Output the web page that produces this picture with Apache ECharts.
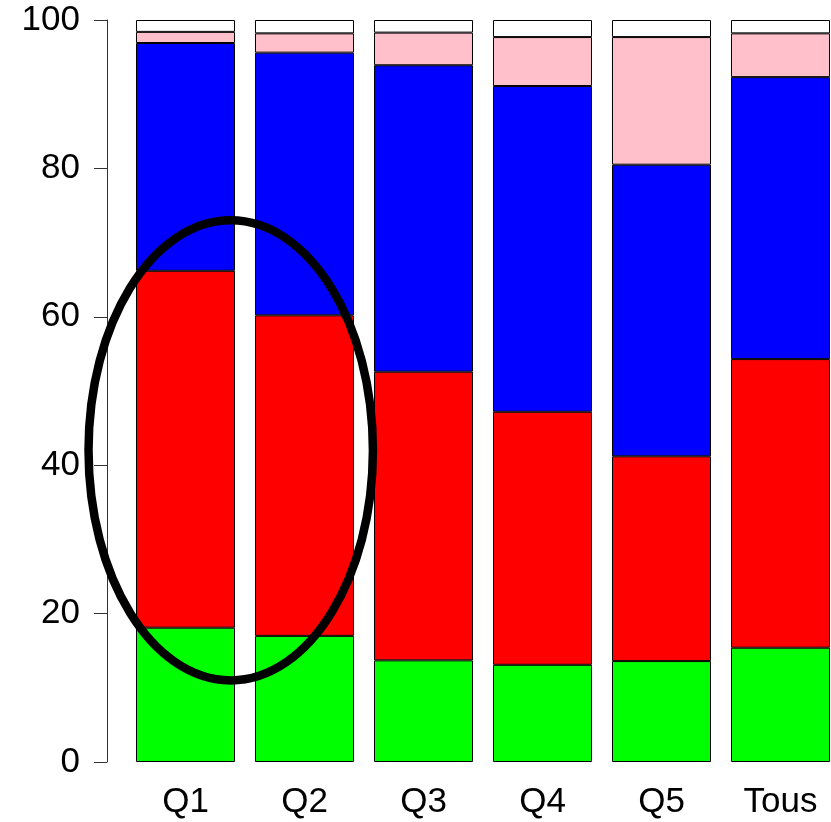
<!DOCTYPE html>
<html>
<head>
<meta charset="utf-8">
<script src="https://cdn.jsdelivr.net/npm/echarts@6/dist/echarts.min.js"></script>
<style>
html,body{margin:0;padding:0;background:#fff;overflow:hidden;width:831px;height:822px;}
#chart{width:842px;height:822px;}
</style>
</head>
<body>
<div id="chart"></div>
<script>
const categories = ['Q1', 'Q2', 'Q3', 'Q4', 'Q5', 'Tous'];
const vert  = [18.1, 17.0, 13.7, 13.1, 13.6, 15.4];
const rouge = [48.1, 43.2, 38.9, 34.1, 27.6, 38.9];
const bleu  = [30.7, 35.4, 41.3, 43.9, 39.3, 38.0];
const rose  = [1.5, 2.6, 4.4, 6.6, 17.2, 5.9];
const blanc = [1.6, 1.8, 1.7, 2.3, 2.3, 1.8];
const yTicks = [0, 20, 40, 60, 80, 100];

// Ellipse annotation (data coordinates): center between Q1 and Q2, value ~42
const ellipseCenterCat = 0.38;   // fraction from Q1 towards Q2
const ellipseCenterVal = 42.0;
const ellipseHalfWidthCat = 1.195; // in category bands
const ellipseHalfHeightVal = 31.0; // in value units

const chart = echarts.init(document.getElementById('chart'), null, {renderer: 'canvas'});
const FONT = 'Liberation Sans, Arial, sans-serif';

function barSeries(name, data, color) {
  return {
    name: name,
    type: 'bar',
    stack: 'total',
    data: data,
    barWidth: '83.2%',
    itemStyle: {color: color, borderColor: '#000', borderWidth: 1},
    emphasis: {disabled: true},
    animation: false
  };
}

chart.setOption({
  animation: false,
  backgroundColor: '#fff',
  grid: {left: 126, top: 20, width: 714, height: 742, containLabel: false},
  xAxis: {
    type: 'category',
    data: categories,
    axisLine: {show: false},
    axisTick: {show: false},
    axisLabel: {color: '#000', fontSize: 35, fontFamily: FONT, margin: 23, lineHeight: 35}
  },
  yAxis: {
    type: 'value',
    min: 0, max: 100, interval: 20,
    offset: 19,
    axisLine: {show: true, lineStyle: {color: '#333', width: 1}},
    axisTick: {show: true, length: 13, lineStyle: {color: '#333', width: 1}},
    axisLabel: {color: '#000', fontSize: 35, fontFamily: FONT, margin: 27,
      formatter: v => yTicks.includes(v) ? String(v) : ''},
    splitLine: {show: false}
  },
  series: [
    barSeries('vert', vert, '#00ff00'),
    barSeries('rouge', rouge, '#ff0000'),
    barSeries('bleu', bleu, '#0000ff'),
    barSeries('rose', rose, '#ffc0cb'),
    barSeries('blanc', blanc, '#ffffff')
  ]
});

(function () {
  const p1 = chart.convertToPixel({gridIndex: 0}, [0, ellipseCenterVal]);
  const p2 = chart.convertToPixel({gridIndex: 0}, [1, ellipseCenterVal]);
  const band = p2[0] - p1[0];
  const ecx = p1[0] + ellipseCenterCat * band;
  const ecy = p1[1];
  const erx = ellipseHalfWidthCat * band;
  const pTop = chart.convertToPixel({gridIndex: 0}, [0, ellipseCenterVal + ellipseHalfHeightVal]);
  const ery = ecy - pTop[1];
  chart.setOption({
    graphic: [{
      type: 'ellipse',
      shape: {cx: ecx, cy: ecy, rx: erx, ry: ery},
      style: {fill: null, stroke: '#000', lineWidth: 8.5},
      z: 100,
      silent: true
    }]
  });
})();
</script>
</body>
</html>
